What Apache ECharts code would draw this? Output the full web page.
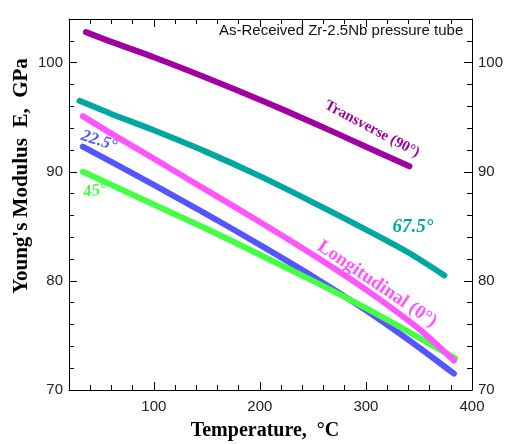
<!DOCTYPE html>
<html>
<head>
<meta charset="utf-8">
<script src="https://cdn.jsdelivr.net/npm/echarts@6/dist/echarts.min.js"></script>
<style>
  html, body { margin: 0; padding: 0; background: #fff; }
  #chart { width: 506px; height: 444px; }
</style>
</head>
<body>
<div id="chart"></div>
<script>
// 温度 (°C) 与杨氏模量 (GPa)
const transverseT = [36, 60, 100, 150, 200, 250, 300, 341]
const transverseE = [102.8, 101.9, 100.5, 98.6, 96.6, 94.5, 92.3, 90.5]

const deg675T = [30, 60, 100, 150, 200, 250, 300, 340, 374]
const deg675E = [96.5, 95.3, 93.8, 91.8, 89.6, 87.2, 84.7, 82.6, 80.5]

const longT = [33, 60, 100, 150, 200, 250, 300, 350, 383]
const longE = [95.1, 93.5, 91.2, 88.3, 85.4, 82.4, 79.2, 75.6, 72.7]

const deg225T = [33, 60, 100, 150, 200, 250, 300, 350, 383]
const deg225E = [92.3, 90.9, 88.8, 86.1, 83.3, 80.4, 77.3, 73.9, 71.5]

const deg45T = [33, 60, 100, 150, 200, 250, 300, 350, 384]
const deg45E = [90.0, 88.8, 87.0, 84.75, 82.4, 80.0, 77.5, 74.8, 72.9]

const xLabels = [100, 200, 300, 400]
const yLabels = [70, 80, 90, 100]

const pairs = (xs, ys) => xs.map((x, i) => [x, ys[i]])

const chart = echarts.init(document.getElementById('chart'))

const labelFont = '"Liberation Sans", Arial, sans-serif'
const serif = '"Liberation Serif", "Times New Roman", serif'

// 坐标轴：小刻度每 20 / 每 2，标签只在整百 / 整十
function xAxisCfg(pos, showLabel) {
  return {
    type: 'value', position: pos, min: 20, max: 400, interval: 20,
    axisLine: { show: true, lineStyle: { color: '#000', width: 1 } },
    axisTick: { show: true, inside: true, length: 5, lineStyle: { color: '#000' } },
    axisLabel: {
      show: showLabel, color: '#222', fontSize: 15, fontFamily: labelFont, margin: 9,
      formatter: v => (xLabels.indexOf(v) >= 0 ? String(v) : '')
    },
    splitLine: { show: false }
  }
}
function yAxisCfg(pos) {
  return {
    type: 'value', position: pos, min: 70, max: 104, interval: 2,
    axisLine: { show: true, lineStyle: { color: '#000', width: 1 } },
    axisTick: { show: true, inside: true, length: 5, lineStyle: { color: '#000' } },
    axisLabel: {
      show: true, color: '#222', fontSize: 15, fontFamily: labelFont, margin: 6,
      formatter: v => (yLabels.indexOf(v) >= 0 ? String(v) : '')
    },
    splitLine: { show: false }
  }
}
// 主刻度（较长）
function majorX(pos) {
  return {
    type: 'value', position: pos, min: 20, max: 400,
    axisLine: { show: false },
    axisTick: { show: true, inside: true, length: 8, customValues: [100, 200, 300], lineStyle: { color: '#000' } },
    axisLabel: { show: false },
    splitLine: { show: false }
  }
}
function majorY(pos) {
  return {
    type: 'value', position: pos, min: 70, max: 104,
    axisLine: { show: false },
    axisTick: { show: true, inside: true, length: 8, customValues: [80, 90, 100], lineStyle: { color: '#000' } },
    axisLabel: { show: false },
    splitLine: { show: false }
  }
}

const lineSeries = (name, xs, ys, color) => ({
  name: name,
  type: 'line',
  data: pairs(xs, ys),
  smooth: 0.25,
  showSymbol: false,
  lineStyle: { color: color, width: 6, cap: 'round' },
  z: 3
})

const option = {
  animation: false,
  backgroundColor: '#fff',
  grid: { left: 69, right: 28, top: 19, bottom: 54 },
  xAxis: [xAxisCfg('bottom', true), xAxisCfg('top', false), majorX('bottom'), majorX('top')],
  yAxis: [yAxisCfg('left'), yAxisCfg('right'), majorY('left'), majorY('right')],
  series: [
    lineSeries('Transverse (90°)', transverseT, transverseE, '#a000a0'),
    lineSeries('67.5°', deg675T, deg675E, '#00a6a0'),
    lineSeries('22.5°', deg225T, deg225E, '#5555ff'),
    lineSeries('45°', deg45T, deg45E, '#44ff44'),
    lineSeries('Longitudinal (0°)', longT, longE, '#ff55ff')
  ],
  graphic: [
    { type: 'text', left: 219, top: 23,
      style: { text: 'As-Received Zr-2.5Nb pressure tube', fill: '#111', font: '15px ' + labelFont } },
    { type: 'text', x: 22, y: 176, rotation: Math.PI / 2,
      style: { text: "Young's Modulus  E,  GPa", fill: '#000', font: 'bold 21px ' + serif, align: 'center', verticalAlign: 'middle' } },
    { type: 'text', x: 265, y: 431,
      style: { text: 'Temperature,  °C', fill: '#000', font: 'bold 20px ' + serif, align: 'center', verticalAlign: 'middle' } },
    { type: 'text', x: 372, y: 129, rotation: -28 * Math.PI / 180,
      style: { text: 'Transverse (90°)', fill: '#a000a0', font: 'bold 15px ' + serif, align: 'center', verticalAlign: 'middle' } },
    { type: 'text', x: 377, y: 284, rotation: -34 * Math.PI / 180,
      style: { text: 'Longitudinal (0°)', fill: '#ff55ff', font: 'bold 19px ' + serif, align: 'center', verticalAlign: 'middle' } },
    { type: 'text', x: 413, y: 227,
      style: { text: '67.5°', fill: '#00a6a0', font: 'italic bold 19px ' + serif, align: 'center', verticalAlign: 'middle' } },
    { type: 'text', x: 99, y: 141, rotation: -18 * Math.PI / 180,
      style: { text: '22.5°', fill: '#5555ff', font: 'italic bold 17px ' + serif, align: 'center', verticalAlign: 'middle' } },
    { type: 'text', x: 95, y: 191, rotation: 8 * Math.PI / 180,
      style: { text: '45°', fill: '#44ff44', font: 'italic bold 17px ' + serif, align: 'center', verticalAlign: 'middle' } }
  ]
}

chart.setOption(option)
</script>
</body>
</html>
